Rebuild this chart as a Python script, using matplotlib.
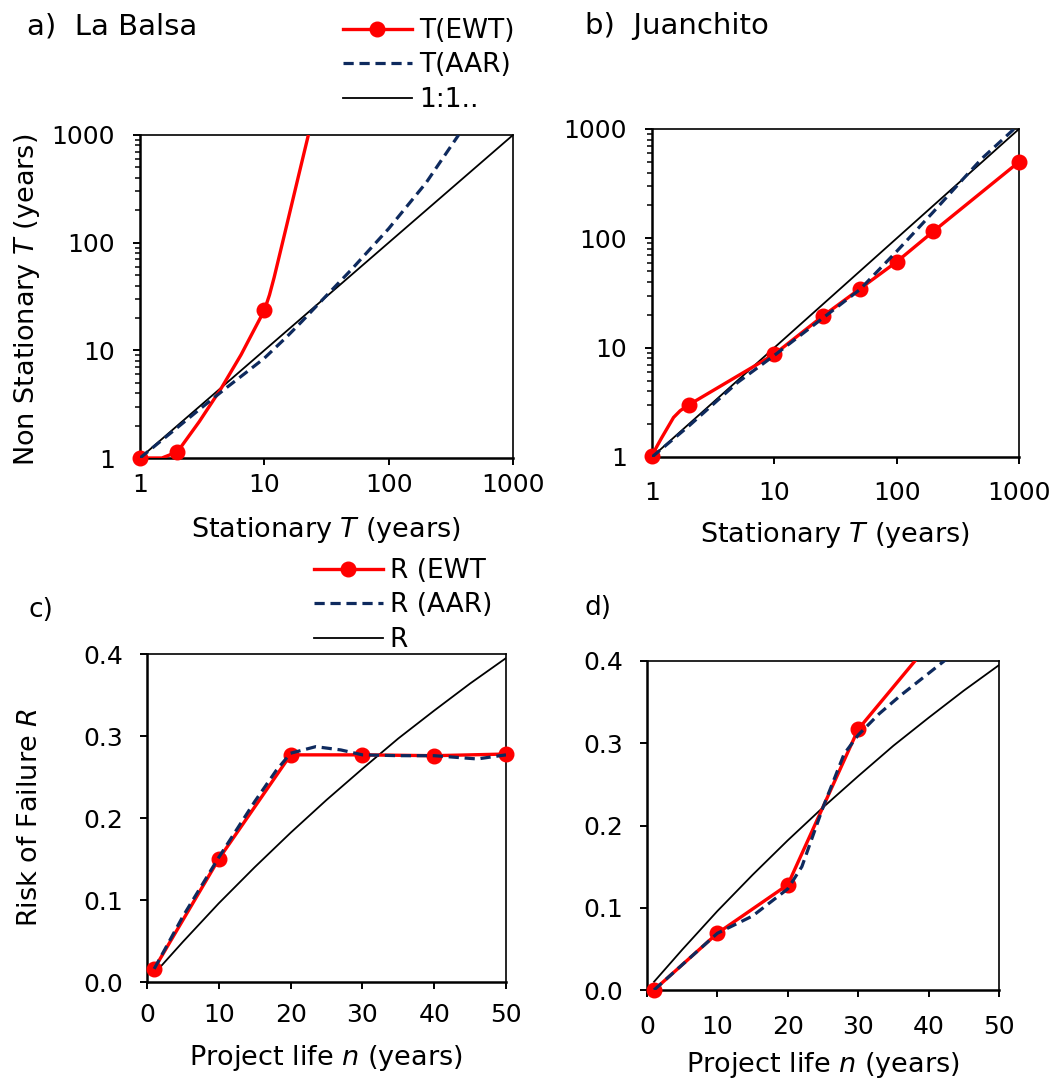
import matplotlib
matplotlib.use("Agg")
import matplotlib.pyplot as plt
from matplotlib.lines import Line2D
from matplotlib.ticker import FixedLocator, NullLocator, LogLocator, FuncFormatter

# ---- data ----
# a) La Balsa  (stationary T vs non-stationary T)
a_ewt_T = [1, 1.5, 2, 3, 4.5, 6.5, 8, 10, 11, 12, 15, 19, 22.6]
a_ewt_NS = [1, 1.0, 1.14, 2.18, 4.44, 9.1, 14.4, 23.5, 32.7, 47.7, 139, 435, 1000]
a_ewt_marks = [0, 2, 7]
a_aar_T = [1, 2, 3, 5, 7, 10, 15, 20, 30, 50, 100, 200, 365]
a_aar_NS = [1, 1.92, 2.82, 4.53, 6.12, 8.45, 13.2, 18.5, 30.3, 56, 135, 360, 1000]

# b) Juanchito
b_ewt_T = [1, 1.1, 1.2, 1.5, 1.7, 2, 10, 25, 50, 100, 200, 1000]
b_ewt_NS = [1.03, 1.26, 1.5, 2.3, 2.65, 3.0, 8.7, 19.5, 34.5, 61, 116, 500]
b_ewt_marks = [0, 5, 6, 7, 8, 9, 10, 11]
b_aar_T = [1, 2, 5, 10, 25, 50, 100, 200, 350, 500, 1000]
b_aar_NS = [1, 1.92, 4.8, 8.5, 18.7, 34, 76, 175, 350, 540, 1100]

one_to_one = [1, 1000]

# c) risk of failure, La Balsa
c_n = [1, 10, 20, 30, 40, 50]
c_ewt = [0.016, 0.150, 0.277, 0.277, 0.276, 0.278]
c_aar_n = [1, 5, 10, 15, 18, 20, 23.5, 27, 30, 35, 40, 46, 50]
c_aar = [0.016, 0.08, 0.152, 0.22, 0.258, 0.279, 0.287, 0.283, 0.277, 0.276, 0.276, 0.272, 0.277]

# d) risk of failure, Juanchito
d_n = [1, 10, 20, 30, 40]
d_ewt = [0.0, 0.069, 0.128, 0.317, 0.42]
d_ewt_marks = [0, 1, 2, 3]
d_aar_n = [1, 10, 15, 20, 22, 25, 28, 30, 33, 36, 40, 42.5]
d_aar = [0.0, 0.069, 0.09, 0.123, 0.15, 0.222, 0.287, 0.31, 0.336, 0.358, 0.385, 0.402]

# stationary risk (black line), same in c and d
r_n = [1, 5, 10, 15, 20, 25, 30, 35, 40, 45, 50]
r_stat = [0.010, 0.049, 0.096, 0.140, 0.182, 0.222, 0.260, 0.297, 0.331, 0.364, 0.395]

W, H = 1055, 1080
RED = '#ff0000'
NAVY = '#0e2a5e'

plt.rcParams['font.family'] = 'DejaVu Sans'
plt.rcParams['mathtext.fontset'] = 'dejavusans'

fig = plt.figure(figsize=(W / 100, H / 100), dpi=100)


def px_axes(l, t, r, b):
    return fig.add_axes([l / W, 1 - b / H, (r - l) / W, (b - t) / H])


def ftext(x, y, s, size, **kw):
    fig.text(x / W, 1 - y / H, s, fontsize=size, **kw)


def style(ax, xpad, ypad):
    for s in ax.spines.values():
        s.set_linewidth(1.2)
    ax.spines['left'].set_linewidth(1.8)
    ax.spines['bottom'].set_linewidth(1.8)
    ax.tick_params(which='major', direction='out', length=5, width=1.4, labelsize=18)
    ax.tick_params(which='minor', direction='out', length=3.5, width=1.1)
    ax.tick_params(axis='x', pad=xpad)
    ax.tick_params(axis='y', pad=ypad)


def draw_ewt(ax, x, y, marks):
    ax.plot(x, y, color=RED, lw=2.4, zorder=3)
    ax.plot([x[i] for i in marks], [y[i] for i in marks], 'o', color=RED,
            ms=10.5, clip_on=False, zorder=4)


def draw_aar(ax, x, y):
    ax.plot(x, y, color=NAVY, lw=2.3, dashes=(3.2, 1.8), zorder=5)


def log_axes(ax):
    ax.set_xscale('log')
    ax.set_yscale('log')
    ax.set_xlim(1, 1000)
    ax.set_ylim(1, 1000)
    dec = [1, 10, 100, 1000]
    ax.xaxis.set_major_locator(FixedLocator(dec))
    ax.xaxis.set_minor_locator(NullLocator())
    ax.yaxis.set_major_locator(FixedLocator(dec))
    ax.yaxis.set_minor_locator(LogLocator(base=10, subs=range(2, 10)))
    fmt = FuncFormatter(lambda v, p: f"{v:g}")
    ax.xaxis.set_major_formatter(fmt)
    ax.yaxis.set_major_formatter(fmt)


def risk_axes(ax):
    ax.set_xlim(0, 50)
    ax.set_ylim(0, 0.4)
    ax.set_xticks([0, 10, 20, 30, 40, 50])
    ax.set_yticks([0, 0.1, 0.2, 0.3, 0.4])
    ax.yaxis.set_major_formatter(FuncFormatter(lambda v, p: f"{v:.1f}"))


# ---- a) La Balsa ----
ax_a = px_axes(140, 135, 513, 458)
log_axes(ax_a)
ax_a.plot(one_to_one, one_to_one, color='black', lw=1.3, zorder=2)
draw_ewt(ax_a, a_ewt_T, a_ewt_NS, a_ewt_marks)
draw_aar(ax_a, a_aar_T, a_aar_NS)
style(ax_a, 6, 13)

# ---- b) Juanchito ----
ax_b = px_axes(652, 129, 1019, 457)
log_axes(ax_b)
ax_b.plot(one_to_one, one_to_one, color='black', lw=1.3, zorder=2)
draw_ewt(ax_b, b_ewt_T, b_ewt_NS, b_ewt_marks)
draw_aar(ax_b, b_aar_T, b_aar_NS)
style(ax_b, 12, 13)

# ---- c) ----
ax_c = px_axes(147, 654, 506, 982)
risk_axes(ax_c)
ax_c.plot(r_n, r_stat, color='black', lw=1.3, zorder=2)
draw_ewt(ax_c, c_n, c_ewt, range(len(c_n)))
draw_aar(ax_c, c_aar_n, c_aar)
style(ax_c, 10, 12)

# ---- d) ----
ax_d = px_axes(647, 661, 999, 990)
risk_axes(ax_d)
ax_d.plot(r_n, r_stat, color='black', lw=1.3, zorder=2)
draw_ewt(ax_d, d_n, d_ewt, d_ewt_marks)
draw_aar(ax_d, d_aar_n, d_aar)
style(ax_d, 13, 12)

# ---- legends ----
h_ewt = Line2D([], [], color=RED, lw=2.4, marker='o', ms=10.5)
h_aar = Line2D([], [], color=NAVY, lw=2.3, dashes=(3.2, 1.8))
h_one = Line2D([], [], color='black', lw=1.3)
leg_kw = dict(frameon=False, fontsize=19, handlelength=2.6, handletextpad=0.27,
              labelspacing=0.32, borderpad=0, borderaxespad=0, loc='upper left',
              bbox_transform=fig.transFigure)
ax_a.legend([h_ewt, h_aar, h_one], ['T(EWT)', 'T(AAR)', '1:1..'],
            bbox_to_anchor=(343 / W, 1 - 18 / H), **leg_kw)
ax_c.legend([h_ewt, h_aar, h_one], ['R (EWT', 'R (AAR)', 'R'],
            bbox_to_anchor=(314 / W, 1 - 558 / H), **leg_kw)

# ---- panel titles and axis labels ----
ftext(27, 26, 'a)  La Balsa', 21, ha='left', va='center')
ftext(585, 26, 'b)  Juanchito', 21, ha='left', va='center')
ftext(28, 610, 'c)', 19, ha='left', va='center')
ftext(585, 608, 'd)', 19, ha='left', va='center')

ftext(27, 300, r'Non Stationary $T$ (years)', 19.5, ha='center', va='center', rotation=90)
ftext(326, 530, r'Stationary $T$ (years)', 19.5, ha='center', va='center')
ftext(835, 535, r'Stationary $T$ (years)', 19.5, ha='center', va='center')
ftext(30, 818, r'Risk of Failure $R$', 19.5, ha='center', va='center', rotation=90)
ftext(326, 1058, r'Project life $n$ (years)', 19.5, ha='center', va='center')
ftext(823, 1065, r'Project life $n$ (years)', 19.5, ha='center', va='center')

fig.savefig('out.png', dpi=100)
